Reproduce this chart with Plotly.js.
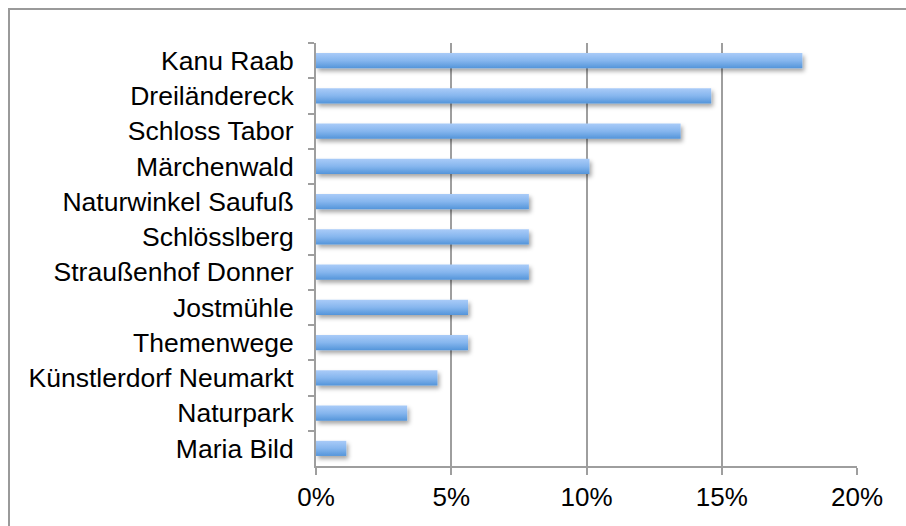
<!DOCTYPE html>
<html>
<head>
<meta charset="utf-8">
<script src="https://cdn.plot.ly/plotly-3.0.1.min.js"></script>
<style>
  html, body { margin: 0; padding: 0; background: #ffffff; }
  #frame { position: absolute; left: 8px; top: 8px; width: 898px; height: 518px;
           border-top: 2px solid #9a9a9a; border-left: 2px solid #9a9a9a; box-sizing: border-box; }
  #chart { position: absolute; left: 0; top: 0; width: 906px; height: 526px; }
</style>
</head>
<body>
<div id="frame"></div>
<div id="chart"></div>
<script>
// Categories, top to bottom
const categories = [
  "Kanu Raab", "Dreiländereck", "Schloss Tabor", "Märchenwald",
  "Naturwinkel Saufuß", "Schlösslberg", "Straußenhof Donner", "Jostmühle",
  "Themenwege", "Künstlerdorf Neumarkt", "Naturpark", "Maria Bild"
];
// Share values (fraction)
const shares = [
  0.1798, 0.1461, 0.1348, 0.1011,
  0.0787, 0.0787, 0.0787, 0.0562,
  0.0562, 0.0449, 0.0337, 0.0112
];
const xTickValues = [0, 0.05, 0.10, 0.15, 0.20];
const xTickLabels = ["0%", "5%", "10%", "15%", "20%"];

const gridGray = "#9e9e9e";

const trace = {
  type: "bar",
  orientation: "h",
  x: shares,
  y: categories,
  width: 0.43,
  marker: { color: "#79aee9", line: { width: 0 } },
  hoverinfo: "skip"
};

const layout = {
  width: 906, height: 526,
  margin: { l: 316, r: 49, t: 43, b: 60 },
  paper_bgcolor: "rgba(0,0,0,0)",
  plot_bgcolor: "rgba(0,0,0,0)",
  showlegend: false,
  font: { family: "Liberation Sans, Arial, sans-serif", color: "#000000", size: 26.5 },
  xaxis: {
    range: [0, 0.2],
    tickvals: xTickValues,
    ticktext: xTickLabels,
    showgrid: true, gridcolor: gridGray, gridwidth: 2,
    zeroline: false,
    showline: true, linecolor: gridGray, linewidth: 2,
    ticks: "outside", ticklen: 7, tickwidth: 2, tickcolor: gridGray,
    tickfont: { size: 26, color: "#000" },
    fixedrange: true
  },
  yaxis: {
    type: "category",
    autorange: "reversed",
    tickson: "boundaries",
    showgrid: false,
    zeroline: false,
    showline: true, linecolor: gridGray, linewidth: 2,
    ticks: "outside", ticklen: 6, tickwidth: 2, tickcolor: gridGray,
    ticklabelstandoff: 15,
    tickfont: { size: 26.5, color: "#000" },
    fixedrange: true
  }
};

Plotly.newPlot("chart", [trace], layout, { displayModeBar: false, staticPlot: true }).then(function (gd) {
  const svg = gd.querySelector("svg.main-svg");
  const NS = "http://www.w3.org/2000/svg";
  let defs = svg.querySelector("defs");
  if (!defs) { defs = document.createElementNS(NS, "defs"); svg.insertBefore(defs, svg.firstChild); }
  const grad = document.createElementNS(NS, "linearGradient");
  grad.setAttribute("id", "barGrad");
  grad.setAttribute("x1", "0"); grad.setAttribute("y1", "0");
  grad.setAttribute("x2", "0"); grad.setAttribute("y2", "1");
  [["0", "#a9cbf8"], ["0.5", "#86b6ee"], ["1", "#5495da"]].forEach(function (s) {
    const st = document.createElementNS(NS, "stop");
    st.setAttribute("offset", s[0]); st.setAttribute("stop-color", s[1]);
    grad.appendChild(st);
  });
  defs.appendChild(grad);
  const filt = document.createElementNS(NS, "filter");
  filt.setAttribute("id", "barShadow");
  filt.setAttribute("x", "-10%"); filt.setAttribute("y", "-30%");
  filt.setAttribute("width", "130%"); filt.setAttribute("height", "190%");
  const ds = document.createElementNS(NS, "feDropShadow");
  ds.setAttribute("dx", "2"); ds.setAttribute("dy", "3");
  ds.setAttribute("stdDeviation", "2.2");
  ds.setAttribute("flood-color", "#000"); ds.setAttribute("flood-opacity", "0.35");
  filt.appendChild(ds);
  defs.appendChild(filt);
  gd.querySelectorAll(".barlayer .point path").forEach(function (p) {
    p.style.fill = "url(#barGrad)";
    p.setAttribute("filter", "url(#barShadow)");
  });
});
</script>
</body>
</html>
